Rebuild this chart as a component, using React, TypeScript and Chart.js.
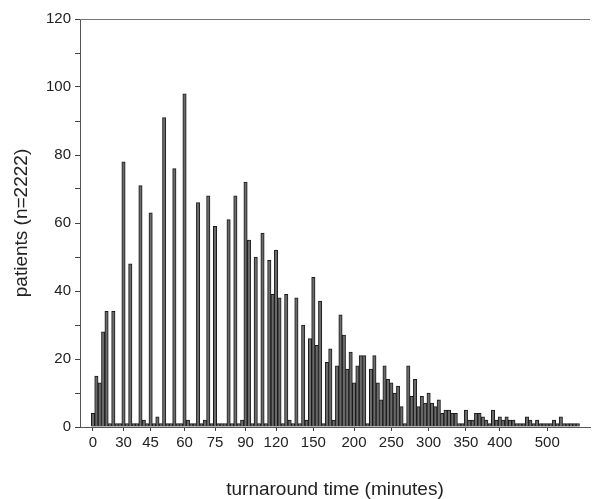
import React, { useEffect, useRef } from "react";
import { Chart, registerables } from "chart.js";

Chart.register(...registerables);

// patients per turnaround-time bin (bins in display order)
const counts: number[] = [
  4, 15, 13, 28, 34, 1, 34, 1, 1, 78,
  1, 48, 1, 1, 71, 2, 1, 63, 1, 3,
  1, 91, 1, 1, 76, 1, 1, 98, 2, 1,
  1, 66, 1, 2, 68, 1, 59, 1, 1, 1,
  61, 1, 68, 1, 2, 72, 55, 1, 50, 1,
  57, 1, 49, 39, 52, 38, 1, 39, 2, 1,
  38, 1, 30, 2, 26, 44, 24, 37, 1, 19,
  23, 2, 18, 33, 27, 17, 22, 13, 18, 21,
  21, 1, 17, 21, 13, 8, 18, 14, 13, 10,
  12, 6, 1, 18, 9, 14, 6, 9, 7, 10,
  7, 6, 8, 4, 5, 5, 4, 4, 1, 1,
  5, 2, 2, 4, 4, 3, 2, 1, 5, 2,
  3, 2, 3, 2, 2, 1, 1, 1, 3, 2,
  1, 2, 1, 1, 1, 1, 2, 1, 3, 1,
  1, 1, 1, 1,
];

// bin index where each x tick label sits
const tickIndices: number[] = [0, 9, 17, 27, 36, 45, 54, 65, 77, 88, 99, 110, 120, 134];
const tickLabels: string[] = ["0", "30", "45", "60", "75", "90", "120", "150", "200", "250", "300", "350", "400", "500"];

const yTicks: number[] = [0, 20, 40, 60, 80, 100, 120];

const FONT = "'Liberation Sans', Arial, Helvetica, sans-serif";

const topLine = {
  id: "topLine",
  afterDraw(chart: any) {
    const { ctx, chartArea } = chart;
    ctx.save();
    ctx.strokeStyle = "#777";
    ctx.lineWidth = 1;
    ctx.beginPath();
    ctx.moveTo(chartArea.left, chartArea.top + 0.5);
    ctx.lineTo(chartArea.right, chartArea.top + 0.5);
    ctx.stroke();
    ctx.restore();
  },
};

export default function App() {
  const ref = useRef<HTMLCanvasElement | null>(null);

  useEffect(() => {
    if (!ref.current) return;
    const data = counts.map((v, i) => ({ x: i, y: v }));
    const chart = new Chart(ref.current, {
      type: "bar",
      data: {
        datasets: [
          {
            data: data as any,
            backgroundColor: "#6a6a6a",
            borderColor: "#1a1a1a",
            borderWidth: 1,
            barPercentage: 1,
            categoryPercentage: 1,
          },
        ],
      },
      options: {
        animation: false,
        responsive: false,
        layout: { padding: { top: 19, right: 2, left: 0, bottom: 0 } },
        plugins: { legend: { display: false }, tooltip: { enabled: false } },
        scales: {
          x: {
            type: "linear",
            offset: false,
            bounds: "data",
            min: -3.83,
            max: 146.6,
            afterDataLimits: (scale: any) => {
              scale.min = -3.83;
              scale.max = 146.6;
            },
            afterBuildTicks: (scale: any) => {
              scale.ticks = tickIndices.map((v) => ({ value: v }));
            },
            afterFit: (scale: any) => {
              scale.height = 72;
            },
            ticks: {
              autoSkip: false,
              maxRotation: 0,
              padding: 3,
              color: "#222",
              font: { family: FONT, size: 15 },
              callback: (v: any) => {
                const k = tickIndices.indexOf(Number(v));
                return k >= 0 ? tickLabels[k] : "";
              },
            },
            grid: { drawOnChartArea: false, offset: false, tickLength: 4, tickColor: "#444" },
            border: { display: true, color: "#555", width: 1 },
            title: {
              display: true,
              text: "turnaround time (minutes)",
              color: "#222",
              font: { family: FONT, size: 19, lineHeight: 0.95 },
              padding: 0,
            },
          },
          y: {
            min: 0,
            max: 120,
            afterFit: (scale: any) => {
              scale.width = 80;
            },
            ticks: {
              stepSize: 10,
              padding: 4,
              color: "#222",
              font: { family: FONT, size: 15 },
              callback: (v: any) => (yTicks.indexOf(Number(v)) >= 0 ? String(v) : ""),
            },
            grid: { drawOnChartArea: false, tickLength: 5, tickColor: "#444" },
            border: { display: true, color: "#555", width: 1 },
            title: {
              display: true,
              text: "patients (n=2222)",
              color: "#222",
              font: { family: FONT, size: 19 },
              padding: { top: 10.6, bottom: 0 },
            },
          },
        },
      },
      plugins: [topLine],
    });
    return () => chart.destroy();
  }, []);

  return (
    <div style={{ position: "absolute", left: 0, top: 0, width: 592, height: 499, background: "#fff" }}>
      <canvas ref={ref} width={592} height={499} style={{ display: "block" }} />
    </div>
  );
}
